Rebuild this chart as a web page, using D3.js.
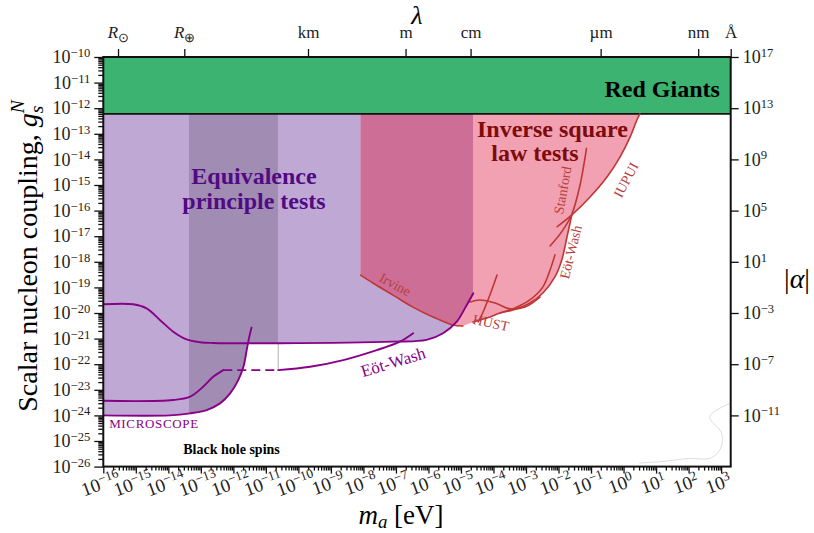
<!DOCTYPE html>
<html>
<head>
<meta charset="utf-8">
<script src="https://cdn.jsdelivr.net/npm/d3@7"></script>
<style>
  body { margin: 0; background: #fff; }
  svg text { font-family: "Liberation Serif", "Times New Roman", serif; }
</style>
</head>
<body>
<div id="chart"></div>
<script>
// All values are log10: [mass in eV, coupling g]
const massDecades = d3.range(-16, 4);
const couplingDecades = d3.range(-26, -9);
const alphaDecades = [17, 13, 9, 5, 1, -3, -7, -11];
const lambdaLabels = ["R⊙", "R⊕", "km", "m", "cm", "µm", "nm", "Å"];
const lambdaMetres = [6.957e8, 6.371e6, 1e3, 1, 1e-2, 1e-6, 1e-9, 1e-10];

const redGiantsLimit = -12.22;
const darkBand = [-13.365, -10.63];     // darker purple strip
const epRightEdge = -4.63;              // right edge of equivalence principle region
const islLeftEdge = -8.085;             // left edge of inverse square law region
const epCross = [-11.55, -21.17];       // MICROSCOPE meets Eöt-Wash

const microscope = [[-16, -24.0], [-13.95, -24.0], [-13.33, -23.92], [-12.82, -23.79], [-12.41, -23.53],
  [-12.10, -23.14], [-11.85, -22.62], [-11.69, -22.10], [-11.59, -21.45], [-11.51, -20.93], [-11.44, -20.57]];
const eotWashUpper = [[-16, -19.66], [-15.08, -19.66], [-14.67, -19.82], [-14.26, -20.27], [-13.85, -20.73],
  [-13.44, -21.03], [-13.03, -21.14], [-12.62, -21.17], [-10.57, -21.18], [-7.08, -21.12], [-6.06, -21.05],
  [-5.55, -20.79], [-5.13, -20.34], [-4.88, -19.82], [-4.62, -19.23]];
const eotWashLowerA = [[-16, -23.43], [-13.85, -23.40], [-13.33, -23.27], [-12.93, -22.88], [-12.62, -22.49], [-12.31, -22.23]];
const eotWashLowerDash = [[-12.31, -22.23], [-10.62, -22.23]];
const eotWashLowerB = [[-10.62, -22.23], [-9.64, -22.10], [-8.62, -21.84], [-7.59, -21.45], [-6.88, -21.12], [-6.47, -20.79]];
const bandEdge = [[-10.62, -21.18], [-10.62, -22.23]];

const irvine = [[-8.085, -18.52], [-7.71, -18.83], [-7.09, -19.30], [-6.48, -19.77], [-5.86, -20.16],
  [-5.65, -20.27], [-5.25, -20.47], [-4.94, -20.51]];
const islLowerEdge = [[-4.63, -20.35], [-4.11, -20.16], [-3.80, -20.0], [-3.40, -19.88], [-2.88, -19.61],
  [-2.48, -19.22], [-2.11, -18.59], [-1.90, -17.93], [-1.74, -17.03], [-1.59, -16.17]];
const iupui = [[-2.04, -16.63], [-1.59, -16.17], [-1.03, -15.47], [-0.51, -14.69], [-0.11, -13.91],
  [0.20, -13.13], [0.41, -12.46], [0.50, -12.22]];
const stanford = [[-2.26, -17.38], [-1.90, -16.82], [-1.60, -16.17], [-1.35, -15.07], [-1.14, -13.57]];
const eotWashRed = [[-2.11, -17.73], [-2.26, -18.32], [-2.48, -18.98], [-2.88, -19.49], [-3.34, -19.80], [-3.80, -20.0]];
const hustA = [[-3.89, -18.52], [-4.11, -19.30], [-4.32, -19.96], [-4.47, -20.35]];
const hustB = [[-4.72, -19.57], [-4.42, -19.49], [-3.95, -19.61], [-3.49, -19.84], [-3.03, -19.77], [-2.57, -19.38]];
const faintCurve = [[0.50, -25.86], [1.12, -25.81], [2.04, -25.68], [2.65, -25.68], [2.96, -25.35],
  [3.02, -24.70], [2.65, -24.05], [3.27, -23.53]];

// Labels: [text, log m, log g, angle]
const redLabels = [["Irvine", -7.02, -18.88, 28], ["HUST", -4.08, -20.38, 12], ["Eöt-Wash", -1.63, -17.62, -76],
  ["Stanford", -1.88, -15.2, -80], ["IUPUI", 0.07, -14.8, -62]];

// Dimensions
const width = 814, height = 533;
const hbarc = 1.9733e-7; // eV m
const x = d3.scaleLog().domain([1e-16, hbarc / 1e-10]).range([103.3, 730.7]);
const y = d3.scaleLog().domain([1e-26, 1e-10]).range([466.6, 57]);
const yAlpha = d3.scaleLog().domain([1e-15, 1e17]).range([466.6, 57]);
const X = p => x(Math.pow(10, p[0]));
const Y = p => y(Math.pow(10, p[1]));
const smooth = d3.line().x(X).y(Y).curve(d3.curveCatmullRom.alpha(0.5));
const poly = d3.line().x(X).y(Y);

const [x0, x1] = x.range(), [y0, y1] = y.range();

const svg = d3.select("#chart").append("svg").attr("width", width).attr("height", height);
const defs = svg.append("defs");
defs.append("clipPath").attr("id", "plot-clip").append("rect")
  .attr("x", x0).attr("y", y1).attr("width", x1 - x0).attr("height", y0 - y1);

// Regions
const epRegion = [[-16, redGiantsLimit], ...microscope.filter(p => p[0] < epCross[0]), epCross,
  ...eotWashUpper.filter(p => p[0] > epCross[0]), [epRightEdge, eotWashUpper[eotWashUpper.length - 1][1]],
  [epRightEdge, redGiantsLimit]];
const islRegion = [[islLeftEdge, redGiantsLimit], ...irvine, ...islLowerEdge, ...iupui.slice(1),
  [0.50, redGiantsLimit]];

defs.append("clipPath").attr("id", "ep-clip").append("path").attr("d", poly(epRegion) + "Z");
defs.append("clipPath").attr("id", "band-clip").append("rect")
  .attr("x", X([darkBand[0]])).attr("y", y1)
  .attr("width", X([darkBand[1]]) - X([darkBand[0]])).attr("height", y0 - y1);

const plot = svg.append("g").attr("clip-path", "url(#plot-clip)");

plot.append("path").attr("d", poly(epRegion) + "Z").attr("fill", "#bfa9d4");
plot.append("path").attr("d", poly(epRegion) + "Z").attr("fill", "#a18cb4").attr("clip-path", "url(#band-clip)");
plot.append("path").attr("d", poly(islRegion) + "Z").attr("fill", "#f1a1b1");
plot.append("g").attr("clip-path", "url(#ep-clip)")
  .append("path").attr("d", poly(islRegion) + "Z").attr("fill", "#cc6e96");

// Red giants band
plot.append("rect")
  .attr("x", x0).attr("y", y1)
  .attr("width", x1 - x0).attr("height", Y([0, redGiantsLimit]) - y1)
  .attr("fill", "#3cb371");
plot.append("line")
  .attr("x1", x0).attr("x2", x1)
  .attr("y1", Y([0, redGiantsLimit])).attr("y2", Y([0, redGiantsLimit]))
  .attr("stroke", "#111").attr("stroke-width", 1.6);

// Curves
const purple = "#880088", red = "#c03535";
const curves = plot.append("g").attr("fill", "none").attr("stroke-linecap", "round");
curves.append("path").attr("d", smooth(faintCurve)).attr("stroke", "#d4d4d4").attr("stroke-width", 0.8);
curves.append("path").attr("d", poly(bandEdge)).attr("stroke", "#999").attr("stroke-width", 0.8);
[irvine, islLowerEdge, iupui, stanford, eotWashRed, hustA, hustB].forEach(c => {
  curves.append("path").attr("d", smooth(c)).attr("stroke", red).attr("stroke-width", 1.6);
});
[microscope, eotWashUpper, eotWashLowerA, eotWashLowerB].forEach(c => {
  curves.append("path").attr("d", smooth(c)).attr("stroke", purple).attr("stroke-width", 1.9);
});
curves.append("path").attr("d", poly(eotWashLowerDash)).attr("stroke", purple)
  .attr("stroke-width", 1.9).attr("stroke-dasharray", "9,5").attr("stroke-linecap", "butt");

// Annotations
const notes = svg.append("g");
notes.append("text").attr("x", X([2.963])).attr("y", Y([0, -11.56]))
  .attr("text-anchor", "end").attr("font-size", 24).attr("font-weight", "bold").text("Red Giants");

[["Equivalence", -14.98], ["principle tests", -15.92]].forEach(([t, g]) => {
  notes.append("text").attr("x", X([-11.366])).attr("y", Y([0, g]))
    .attr("text-anchor", "middle").attr("font-size", 24).attr("font-weight", "bold")
    .attr("fill", "#520a84").text(t);
});
[["Inverse square", -2.187, -13.125], ["law tests", -2.725, -14.08]].forEach(([t, m, g]) => {
  notes.append("text").attr("x", X([m])).attr("y", Y([0, g]))
    .attr("text-anchor", "middle").attr("font-size", 24).attr("font-weight", "bold")
    .attr("fill", "#800a0a").text(t);
});
redLabels.forEach(([t, m, g, a]) => {
  notes.append("text")
    .attr("transform", `translate(${X([m])},${Y([0, g])}) rotate(${a})`)
    .attr("text-anchor", "middle").attr("dy", "0.35em")
    .attr("font-size", 14).attr("fill", "#b84040").text(t);
});
notes.append("text")
  .attr("transform", `translate(${X([-7.09])},${Y([0, -21.91])}) rotate(-17)`)
  .attr("text-anchor", "middle").attr("dy", "0.35em")
  .attr("font-size", 17).attr("fill", purple).text("Eöt-Wash");
notes.append("text").attr("x", X([-15.82])).attr("y", Y([0, -24.49]))
  .attr("font-size", 13).attr("fill", purple).attr("textLength", 89).text("MICROSCOPE");
notes.append("text").attr("x", X([-13.54])).attr("y", Y([0, -25.51]))
  .attr("font-size", 14).attr("font-weight", "bold").text("Black hole spins");

// Axes
const sup = e => (e < 0 ? "−" + (-e) : "" + e);
function powerLabels(sel, exps) {
  sel.selectAll(".tick text").each(function(d, i) {
    const t = d3.select(this).text("10");
    t.append("tspan").attr("dy", "-0.5em").attr("font-size", "0.7em").text(sup(exps[i]));
  });
}
function styleAxis(g) {
  g.select(".domain").remove();
  g.selectAll("line").attr("stroke", "#111").attr("stroke-width", 1.3);
  g.selectAll("text").attr("fill", "#222").attr("font-family", null);
}

const minorMass = [];
massDecades.forEach(k => d3.range(2, 10).forEach(j => { if (j * Math.pow(10, k) < x.domain()[1]) minorMass.push(j * Math.pow(10, k)); }));
const minorCoupling = [];
couplingDecades.slice(0, -1).forEach(k => d3.range(2, 10).forEach(j => minorCoupling.push(j * Math.pow(10, k))));

// bottom
svg.append("g").attr("transform", `translate(0,${y0})`)
  .call(d3.axisBottom(x).tickValues(minorMass).tickSize(4).tickFormat(""))
  .call(styleAxis);
const bottomAxis = svg.append("g").attr("transform", `translate(0,${y0})`)
  .call(d3.axisBottom(x).tickValues(massDecades.map(k => Math.pow(10, k))).tickSize(7))
  .call(styleAxis)
  .attr("font-size", 19);
powerLabels(bottomAxis, massDecades);
bottomAxis.selectAll(".tick text")
  .attr("y", null).attr("dy", null)
  .attr("text-anchor", "middle")
  .attr("transform", "translate(-1,23) rotate(-20)");

// left
svg.append("g").attr("transform", `translate(${x0},0)`)
  .call(d3.axisLeft(y).tickValues(minorCoupling).tickSize(5).tickFormat(""))
  .call(styleAxis);
const leftAxis = svg.append("g").attr("transform", `translate(${x0},0)`)
  .call(d3.axisLeft(y).tickValues(couplingDecades.map(k => Math.pow(10, k))).tickSize(9).tickPadding(4))
  .call(styleAxis)
  .attr("font-size", 18);
powerLabels(leftAxis, couplingDecades);

// right
const rightAxis = svg.append("g").attr("transform", `translate(${x1},0)`)
  .call(d3.axisRight(yAlpha).tickValues(alphaDecades.map(k => Math.pow(10, k))).tickSize(8).tickPadding(4))
  .call(styleAxis)
  .attr("font-size", 18);
powerLabels(rightAxis, alphaDecades);

// top (wavelength)
const topAxis = svg.append("g").attr("transform", `translate(0,${y1})`)
  .call(d3.axisTop(x).tickValues(lambdaMetres.map(l => hbarc / l)).tickSize(8).tickPadding(11))
  .call(styleAxis)
  .attr("font-size", 17);
topAxis.selectAll(".tick text").each(function(d, i) {
  const lab = lambdaLabels[i];
  const t = d3.select(this).text(null);
  if (lab[0] === "R") {
    t.append("tspan").attr("font-style", "italic").text("R");
    t.append("tspan").attr("dy", "0.3em").attr("font-size", "0.75em").text(lab[1]);
  } else {
    t.text(lab);
  }
});

// Frame
svg.append("rect").attr("x", x0).attr("y", y1).attr("width", x1 - x0).attr("height", y0 - y1)
  .attr("fill", "none").attr("stroke", "#111").attr("stroke-width", 2);

// Axis titles
const xt = svg.append("text").attr("x", 401).attr("y", 524).attr("text-anchor", "middle").attr("font-size", 27);
xt.append("tspan").attr("font-style", "italic").text("m");
xt.append("tspan").attr("font-style", "italic").attr("font-size", "0.7em").attr("dy", "0.2em").text("a");
xt.append("tspan").attr("dy", "-0.14em").text(" [eV]");

const yt = svg.append("text").attr("transform", "translate(37,256) rotate(-90)")
  .attr("text-anchor", "middle").attr("font-size", 28);
yt.append("tspan").text("Scalar nucleon coupling, ");
yt.append("tspan").attr("font-style", "italic").text("g");
yt.append("tspan").attr("font-style", "italic").attr("font-size", "0.7em").attr("dy", "0.3em").text("s");
yt.append("tspan").attr("font-style", "italic").attr("font-size", "0.7em").attr("dx", "-0.4em").attr("dy", "-0.95em").text("N");

svg.append("text").attr("x", 417).attr("y", 24).attr("text-anchor", "middle")
  .attr("font-size", 26).attr("font-style", "italic").text("λ");

const at = svg.append("text").attr("x", 797).attr("y", 288).attr("text-anchor", "middle").attr("font-size", 28);
at.append("tspan").text("|");
at.append("tspan").attr("font-style", "italic").text("α");
at.append("tspan").text("|");
</script>
</body>
</html>
